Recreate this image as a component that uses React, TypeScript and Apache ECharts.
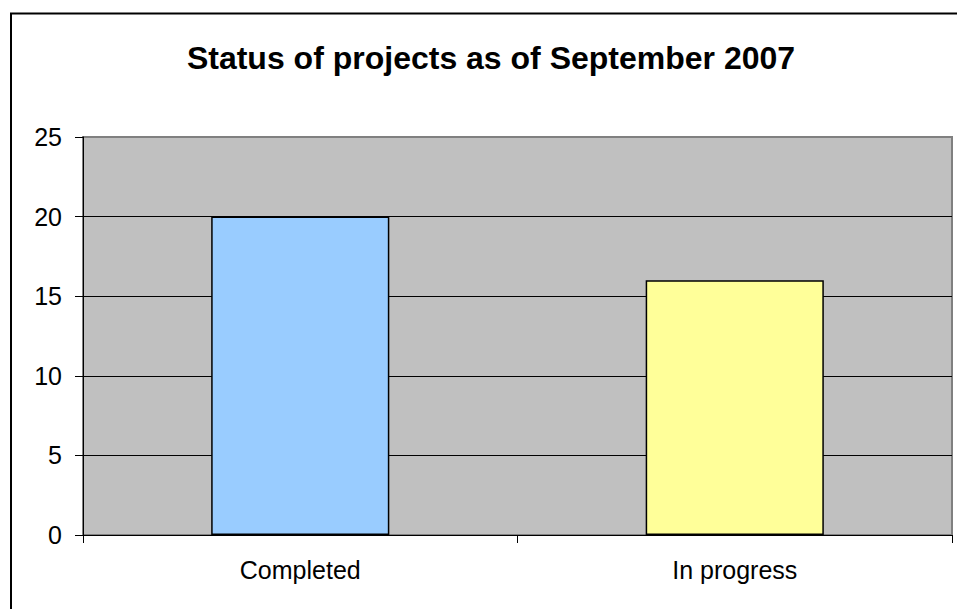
import React, { useEffect, useRef } from "react";
import * as echarts from "echarts";

const titleText = "Status of projects as of September 2007";
const categories = ["Completed", "In progress"];
const values = [20, 16];
const barColors = ["#99CCFF", "#FFFF99"];
const yTicks = { min: 0, max: 25, interval: 5 };

export default function App() {
  const ref = useRef<HTMLDivElement>(null);
  useEffect(() => {
    const chart = echarts.init(ref.current!, null, { renderer: "svg" });
    const font = "'Liberation Sans', Arial, sans-serif";
    chart.setOption({
      animation: false,
      backgroundColor: "#ffffff",
      title: {
        text: titleText,
        left: 486,
        textAlign: "center",
        top: 37,
        textStyle: { fontFamily: font, fontSize: 32, fontWeight: "bold", color: "#000" },
      },
      graphic: [
        {
          type: "rect",
          shape: { x: 11, y: 13.5, width: 958, height: 700 },
          style: { fill: "none", stroke: "#000", lineWidth: 2 },
          silent: true,
          z: 100,
        },
      ],
      grid: {
        left: 83,
        right: 5,
        top: 137,
        bottom: 74,
        show: true,
        backgroundColor: "#C0C0C0",
        borderColor: "#808080",
        borderWidth: 2,
      },
      xAxis: {
        type: "category",
        data: categories,
        axisLine: { show: true, lineStyle: { color: "#000", width: 1 } },
        axisTick: { show: true, length: 8, lineStyle: { color: "#000" } },
        axisLabel: { margin: 22, fontFamily: font, fontSize: 25, color: "#000" },
        splitLine: { show: false },
      },
      yAxis: {
        type: "value",
        min: yTicks.min,
        max: yTicks.max,
        interval: yTicks.interval,
        axisLine: { show: true, lineStyle: { color: "#000", width: 1 } },
        axisTick: { show: true, length: 8, lineStyle: { color: "#000" } },
        axisLabel: { margin: 21, fontFamily: font, fontSize: 25, color: "#000" },
        splitLine: {
          show: true,
          lineStyle: {
            color: ["#000", "#000", "#000", "#000", "#000", "#808080"],
            width: 1,
          },
        },
      },
      series: [
        {
          type: "bar",
          data: values.map((v, i) => ({
            value: v,
            itemStyle: { color: barColors[i], borderColor: "#000", borderWidth: 1.5 },
          })),
          barCategoryGap: "59%",
        },
      ],
    });
    return () => chart.dispose();
  }, []);
  return (
    <div
      ref={ref}
      style={{ position: "fixed", left: 0, top: 0, width: 957, height: 609 }}
    />
  );
}
